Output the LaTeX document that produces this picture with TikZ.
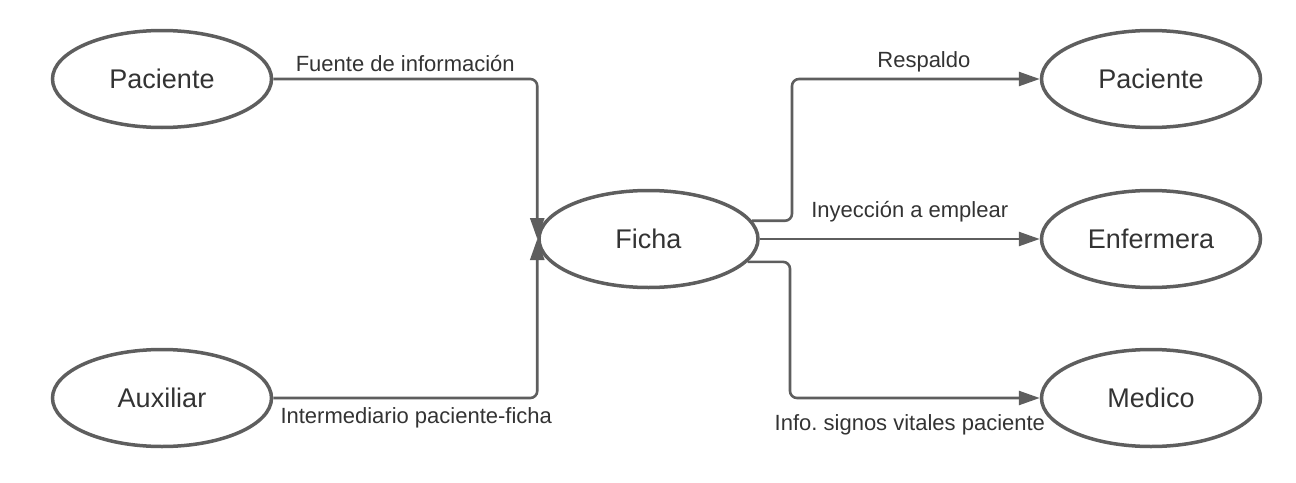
\documentclass[tikz,border=0pt]{standalone}
\usepackage{fontspec}
\setmainfont{Liberation Sans}
\usetikzlibrary{shapes,arrows.meta}
\definecolor{linegray}{HTML}{5E5E5E}
\definecolor{textgray}{HTML}{333333}

\begin{document}
\begin{tikzpicture}[x=1pt,y=-1pt,
        entity/.style={draw=linegray,line width=3.5pt,ellipse,minimum width=219pt,minimum height=97pt,inner sep=0pt,text=textgray,font=\fontsize{27}{32}\selectfont},
        flow/.style={draw=linegray,line width=2.6pt,rounded corners=7pt,-{Triangle[length=21pt,width=14pt]}},
        lbl/.style={text=textgray,font=\fontsize{22}{26}\selectfont,inner sep=0pt,anchor=base}]
        \useasboundingbox (0,0) rectangle (1296,482);
        \node[entity] (pacienteIzq) at (162,79) {Paciente};
        \node[entity] (auxiliar) at (162,398) {Auxiliar};
        \node[entity] (ficha) at (648.5,239) {Ficha};
        \node[entity] (pacienteDer) at (1151,79) {Paciente};
        \node[entity] (enfermera) at (1151,239) {Enfermera};
        \node[entity] (medico) at (1151,398) {Medico};
        \coordinate (giroSup) at (792,150);
        \coordinate (giroInf) at (790,330);

        \draw[flow] (pacienteIzq.east) -| node[lbl,pos=.25,yshift=8pt]{Fuente de información} (ficha.west);
        \draw[flow] (auxiliar.east) -| node[lbl,pos=.25,xshift=11pt,yshift=-25pt]{Intermediario paciente-ficha} (ficha.west);
        \draw[flow] (ficha.10) -| (giroSup) |- node[lbl,pos=.75,xshift=8pt,yshift=12pt]{Respaldo} (pacienteDer.west);
        \draw[flow] (ficha.east) -- node[lbl,pos=.5,xshift=10pt,yshift=22pt]{Inyección a emplear} (enfermera.west);
        \draw[flow] (ficha.-13) -| (giroInf) |- node[lbl,pos=.75,xshift=-5pt,yshift=-32pt]{Info.\ signos vitales paciente} (medico.west);
\end{tikzpicture}
\end{document}
